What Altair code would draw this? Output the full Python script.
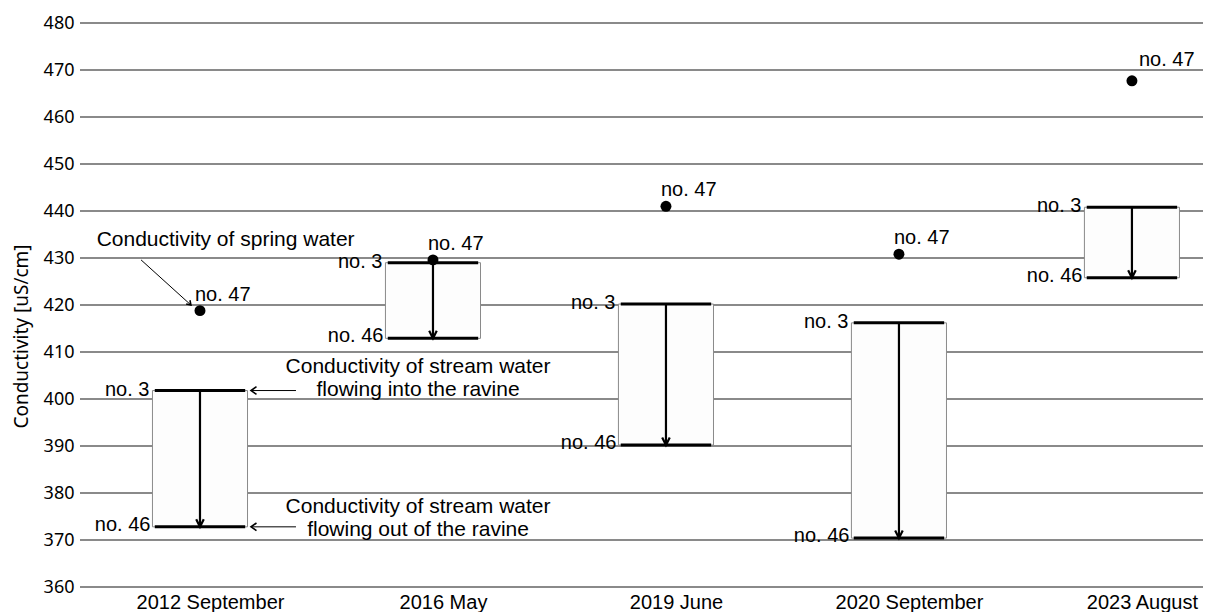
import altair as alt
import pandas as pd

# ---- data ----
dates = ["2012 September", "2016 May", "2019 June", "2020 September", "2023 August"]
no3 = [401.8, 429.0, 420.2, 416.2, 440.8]     # stream water flowing into the ravine
no46 = [372.8, 412.9, 390.2, 370.4, 425.8]    # stream water flowing out of the ravine
no47 = [418.8, 429.6, 441.0, 430.8, 467.7]    # spring water
y_ticks = [360, 370, 380, 390, 400, 410, 420, 430, 440, 450, 460, 470, 480]

HW = 0.204   # half width of each box, in category units

df = pd.DataFrame({"idx": list(range(len(dates))), "date": dates,
                   "no3": no3, "no46": no46, "no47": no47})

FONT_TXT = "Liberation Sans"
FONT_AX = "Noto Sans"

xs = alt.Scale(domain=[-0.515, 4.305], nice=False, zero=False)
ys = alt.Scale(domain=[360, 480], nice=False, zero=False)

label_expr = "[" + ",".join("'" + d + "'" for d in dates) + "][datum.value]"

XAX = alt.Axis(values=list(range(len(dates))), labelExpr=label_expr,
               title=None, grid=False, domain=False, ticks=False,
               labelFont=FONT_TXT, labelFontSize=20, labelColor="#000",
               labelPadding=5, labelOffset=10)


def xq(field):
    return alt.X(field, scale=xs, axis=XAX)


def yq(field):
    return alt.Y(field, scale=ys)


base = alt.Chart(df)

# gridlines as rules
grid = alt.Chart(pd.DataFrame({"v": y_ticks})).mark_rule(
    color="#8a8a8a", strokeWidth=2
).encode(
    y=alt.Y("v:Q", scale=ys,
            axis=alt.Axis(values=y_ticks, title="Conductivity  [uS/cm]",
                          grid=False, domain=False, ticks=False,
                          labelFont=FONT_AX, labelFontSize=18, labelColor="#000",
                          labelPadding=6, titleFont=FONT_AX, titleFontSize=19,
                          titleFontWeight="normal", titleColor="#000",
                          titlePadding=12, titleY=313))
)

boxes = base.transform_calculate(
    x0="datum.idx - %f" % HW, x1="datum.idx + %f" % HW
).mark_rect(fill="#fdfdfd", stroke="#8a8a8a", strokeWidth=1).encode(
    x=xq("x0:Q"), x2="x1:Q", y=yq("no3:Q"), y2="no46:Q")

top_line = base.transform_calculate(
    x0="datum.idx - %f" % (HW - 0.01), x1="datum.idx + %f" % (HW - 0.01)
).mark_rule(color="#000", strokeWidth=3).encode(
    x=xq("x0:Q"), x2="x1:Q", y=yq("no3:Q"))

bot_line = base.transform_calculate(
    x0="datum.idx - %f" % (HW - 0.01), x1="datum.idx + %f" % (HW - 0.01)
).mark_rule(color="#000", strokeWidth=3).encode(
    x=xq("x0:Q"), x2="x1:Q", y=yq("no46:Q"))

shaft = base.mark_rule(color="#000", strokeWidth=2.2).encode(
    x=xq("idx:Q"), y=yq("no3:Q"), y2="no46:Q")

head = base.mark_point(shape="M -0.5 -1 L 0 0 L 0.5 -1", filled=False,
                       color="#000", strokeWidth=2.2, size=230, opacity=1).encode(
    x=xq("idx:Q"), y=yq("no46:Q"))

dots = base.mark_circle(color="#000", size=120, opacity=1).encode(
    x=xq("idx:Q"), y=yq("no47:Q"))

lab47 = base.transform_filter("datum.idx < 4").mark_text(
    text="no. 47", font=FONT_TXT, fontSize=20, align="left",
    baseline="alphabetic", dx=-5, dy=-10, color="#000").encode(
    x=xq("idx:Q"), y=yq("no47:Q"))

lab47_last = base.transform_filter("datum.idx == 4").mark_text(
    text="no. 47", font=FONT_TXT, fontSize=20, align="left",
    baseline="alphabetic", dx=7, dy=-15, color="#000").encode(
    x=xq("idx:Q"), y=yq("no47:Q"))

lab3 = base.transform_calculate(x0="datum.idx - %f" % HW).mark_text(
    text="no. 3", font=FONT_TXT, fontSize=20, align="right", baseline="alphabetic",
    dx=-3, dy=5, color="#000").encode(
    x=xq("x0:Q"), y=yq("no3:Q"))

lab46 = base.transform_calculate(x0="datum.idx - %f" % HW).mark_text(
    text="no. 46", font=FONT_TXT, fontSize=20, align="right", baseline="alphabetic",
    dx=-2, dy=4, color="#000").encode(
    x=xq("x0:Q"), y=yq("no46:Q"))

# ---- annotations (explanatory notes for the 2012 September group) ----
ann_text = pd.DataFrame({
    "x": [0.11, 0.936, 0.936, 0.936, 0.936],
    "y": [433.8, 406.8, 401.9, 377.0, 372.1],
    "t": ["Conductivity of spring water",
          "Conductivity of stream water", "flowing into the ravine",
          "Conductivity of stream water", "flowing out of the ravine"],
})
notes = alt.Chart(ann_text).mark_text(font=FONT_TXT, fontSize=21, align="center",
                                      baseline="middle", color="#000").encode(
    x=xq("x:Q"), y=yq("y:Q"), text="t:N")

ann_lines = pd.DataFrame({
    "x": [-0.253, 0.412, 0.412],
    "x2": [-0.039, 0.219, 0.219],
    "y": [429.6, 401.8, 372.8],
    "y2": [420.0, 401.8, 372.8],
})
note_lines = alt.Chart(ann_lines).mark_rule(color="#000", strokeWidth=1).encode(
    x=xq("x:Q"), x2="x2:Q", y=yq("y:Q"), y2="y2:Q")

ann_heads = pd.DataFrame({"x": [0.219, 0.219], "y": [401.8, 372.8]})
note_heads = alt.Chart(ann_heads).mark_point(
    shape="M 1 -0.7 L 0 0 L 1 0.7", filled=False, color="#000", strokeWidth=1.6,
    size=120, opacity=1).encode(
    x=xq("x:Q"), y=yq("y:Q"))

diag_head = alt.Chart(pd.DataFrame({"x": [-0.039], "y": [420.0]})).mark_point(
    shape="M -1 -0.2 L 0 0 L -0.2 -1", filled=False, color="#000",
    strokeWidth=1.6, size=90, opacity=1).encode(
    x=xq("x:Q"), y=yq("y:Q"))

chart = alt.layer(
    grid, boxes, top_line, bot_line, shaft, head, dots, lab47, lab47_last,
    lab3, lab46, notes, note_lines, note_heads, diag_head
).properties(
    width=1123, height=564,
    padding={"left": 4, "top": 6, "right": 0, "bottom": 0},
    background="white"
).configure_view(stroke=None)

chart.save("out.html", embed_options={"renderer": "svg", "actions": False})
